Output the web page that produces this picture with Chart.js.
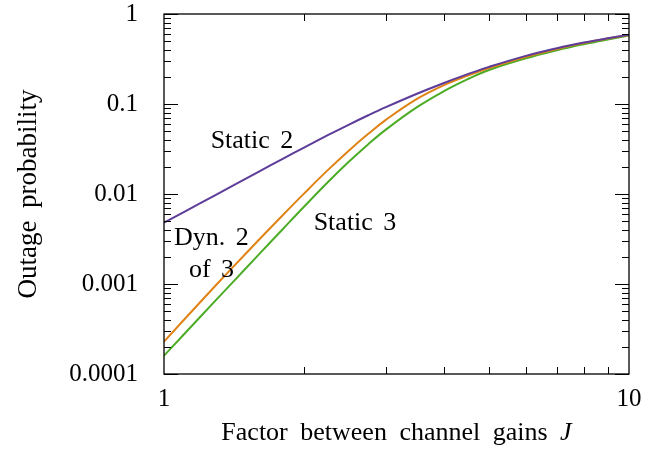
<!DOCTYPE html>
<html><head><meta charset="utf-8">
<script src="https://cdn.jsdelivr.net/npm/chart.js@4/dist/chart.umd.min.js"></script>
<style>html,body{margin:0;padding:0;background:#fff;}</style>
</head><body>
<canvas id="c" width="664" height="450" style="display:block;width:664px;height:450px"></canvas>
<script>
// ---- data ----
const J = [1, 1.2, 1.4, 1.6, 1.8, 2, 2.25, 2.5, 2.75, 3, 3.5, 4, 4.5, 5, 6, 7, 8, 9, 10];
const static2 = [0.0048, 0.00796, 0.01223, 0.01772, 0.02459, 0.03282, 0.04498, 0.0591, 0.07496, 0.0922, 0.1300, 0.1713, 0.2146, 0.2586, 0.3428, 0.4169, 0.4819, 0.5383, 0.5881];
const dyn2of3 = [0.000229, 0.000639, 0.001499, 0.003098, 0.005815, 0.01010, 0.01841, 0.03050, 0.04662, 0.06659, 0.1138, 0.1620, 0.2070, 0.2512, 0.3350, 0.4093, 0.4753, 0.5333, 0.5841];
const static3 = [0.00016, 0.000438, 0.001024, 0.002132, 0.004064, 0.007219, 0.01351, 0.02293, 0.03577, 0.05186, 0.0922, 0.1389, 0.1888, 0.2390, 0.3221, 0.3963, 0.4624, 0.5212, 0.5754];
const xTicks = [1, 10];
const xTickLabels = ['1', '10'];
const yTicks = [0.0001, 0.001, 0.01, 0.1, 1];
const yTickLabels = ['0.0001', '0.001', '0.01', '0.1', '1'];
const seriesNames = ['Static 2', 'Dyn. 2 of 3', 'Static 3'];
const xTitle = 'Factor between channel gains ';
const xTitleVar = 'J';
const yTitle = 'Outage probability';

// ---- styling / annotation placement ----
const FONT = '"Liberation Serif", "Times New Roman", serif';
const COLORS = ['#5e3c99', '#e08214', '#4dac26'];
const annotations = [
  {text: 'Static 2', x: 1.546, y: 0.0325},
  {text: 'Dyn. 2', x: 1.265, y: 0.00271},
  {text: 'of 3', x: 1.265, y: 0.0012},
  {text: 'Static 3', x: 2.575, y: 0.00398}
];
const mult = [2, 3, 4, 5, 6, 7, 8, 9];
const xMinor = mult.map(m => m * xTicks[0]);
const yMinor = [];
yTicks.slice(0, -1).forEach(d => mult.forEach(m => yMinor.push(m * d)));

const decor = {
  id: 'decor',
  beforeDraw(chart) {
    const ctx = chart.ctx;
    ctx.save();
    ctx.fillStyle = '#fff';
    ctx.fillRect(0, 0, chart.width, chart.height);
    ctx.restore();
  },
  afterDatasetsDraw(chart) {
    const {ctx, chartArea: a, scales: {x, y}} = chart;
    ctx.save();
    ctx.strokeStyle = '#000';
    ctx.lineWidth = 1;
    ctx.beginPath();
    const major = 14, minor = 7;
    yTicks.forEach(v => {
      const p = Math.round(y.getPixelForValue(v)) + 0.5;
      ctx.moveTo(a.left, p); ctx.lineTo(a.left + major, p);
      ctx.moveTo(a.right, p); ctx.lineTo(a.right - major, p);
    });
    yMinor.forEach(v => {
      const p = Math.round(y.getPixelForValue(v)) + 0.5;
      ctx.moveTo(a.left, p); ctx.lineTo(a.left + minor, p);
      ctx.moveTo(a.right, p); ctx.lineTo(a.right - minor, p);
    });
    xMinor.forEach(v => {
      const p = Math.round(x.getPixelForValue(v)) + 0.5;
      ctx.moveTo(p, a.bottom); ctx.lineTo(p, a.bottom - minor);
      ctx.moveTo(p, a.top); ctx.lineTo(p, a.top + minor);
    });
    ctx.stroke();
    ctx.lineWidth = 1.3;
    ctx.strokeRect(a.left, a.top, a.right - a.left, a.bottom - a.top);

    try { ctx.wordSpacing = '4px'; } catch (e) {}
    // curve annotations
    ctx.fillStyle = '#000';
    ctx.font = '26px ' + FONT;
    ctx.textAlign = 'center';
    ctx.textBaseline = 'alphabetic';
    annotations.forEach(t => {
      ctx.fillText(t.text, x.getPixelForValue(t.x), y.getPixelForValue(t.y));
    });

    // x title with italic J
    try { ctx.wordSpacing = '6px'; } catch (e) {}
    const f1 = '26px ' + FONT, f2 = 'italic 26px ' + FONT;
    ctx.font = f1; const w1 = ctx.measureText(xTitle).width;
    ctx.font = f2; const w2 = ctx.measureText(xTitleVar).width;
    const cx = (a.left + a.right) / 2;
    const x0 = cx - (w1 + w2) / 2;
    const by = a.bottom + 66;
    ctx.textAlign = 'left';
    ctx.font = f1; ctx.fillText(xTitle, x0, by);
    ctx.font = f2; ctx.fillText(xTitleVar, x0 + w1, by);

    // y title
    ctx.font = '27px ' + FONT;
    ctx.textAlign = 'center';
    ctx.translate(a.left - 128, (a.top + a.bottom) / 2);
    ctx.rotate(-Math.PI / 2);
    ctx.fillText(yTitle, 0, 0);
    ctx.restore();
  }
};

const mk = (vals) => J.map((j, i) => ({x: j, y: vals[i]}));

new Chart(document.getElementById('c'), {
  type: 'line',
  data: {
    datasets: [static2, dyn2of3, static3].map((v, i) => ({
      label: seriesNames[i],
      data: mk(v),
      borderColor: COLORS[i],
      backgroundColor: COLORS[i],
      borderWidth: 2,
      pointRadius: 0,
      fill: false,
      tension: 0.4
    }))
  },
  options: {
    responsive: false,
    animation: false,
    devicePixelRatio: 1,
    layout: {padding: {top: 14, right: 35, left: 0, bottom: 0}},
    plugins: {legend: {display: false}, tooltip: {enabled: false}},
    scales: {
      x: {
        type: 'logarithmic', min: 1, max: 10,
        afterBuildTicks: s => { s.ticks = xTicks.map(v => ({value: v})); },
        afterFit: s => { s.height = 76; s.paddingLeft = 0; s.paddingRight = 0; },
        grid: {display: false, drawTicks: false},
        border: {display: false},
        ticks: {
          autoSkip: false, maxRotation: 0, padding: 10, color: '#000',
          font: {family: FONT, size: 25},
          callback: (v) => { const i = xTicks.indexOf(v); return i >= 0 ? xTickLabels[i] : ''; }
        }
      },
      y: {
        type: 'logarithmic', min: 0.0001, max: 1,
        afterBuildTicks: s => { s.ticks = yTicks.map(v => ({value: v})); },
        afterFit: s => { s.width = 164; s.paddingTop = 0; s.paddingBottom = 0; },
        grid: {display: false, drawTicks: false},
        border: {display: false},
        ticks: {
          autoSkip: false, padding: 26, color: '#000',
          font: {family: FONT, size: 25},
          callback: (v) => { const i = yTicks.indexOf(v); return i >= 0 ? yTickLabels[i] : ''; }
        }
      }
    }
  },
  plugins: [decor]
});
</script>
</body></html>
